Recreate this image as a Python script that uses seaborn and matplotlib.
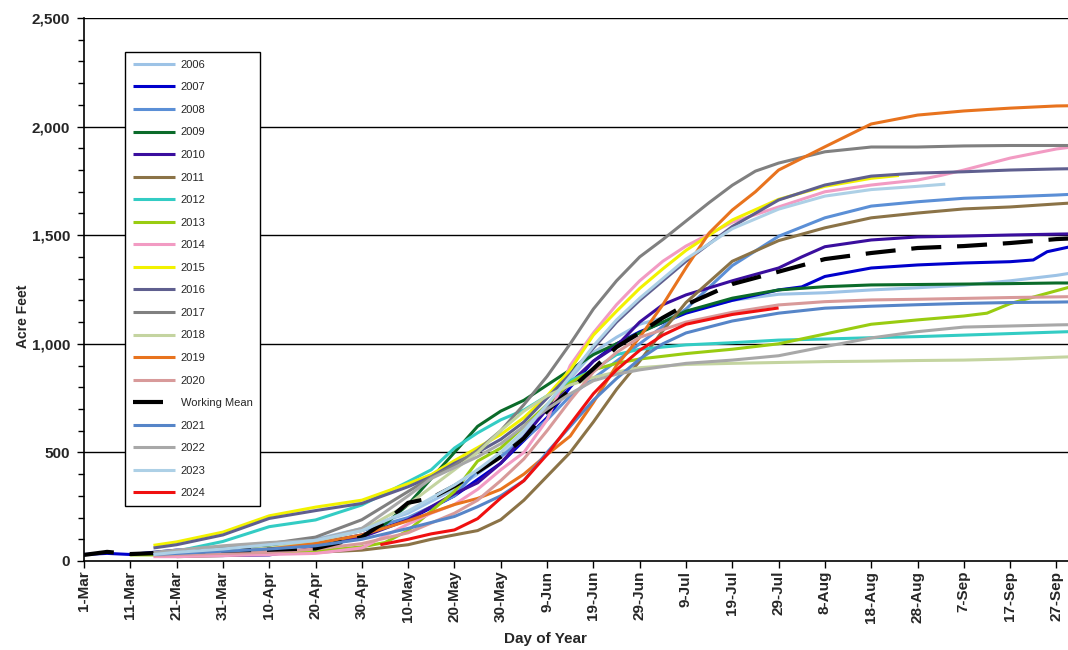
import numpy as np
import pandas as pd
import matplotlib
matplotlib.use("Agg")
import matplotlib.pyplot as plt
from matplotlib.ticker import MultipleLocator, FuncFormatter
import seaborn as sns

# ---- cumulative volumes (acre-feet) by day since 1-Mar ----
day_2006 = [15, 20, 30, 40, 50, 60, 70, 80, 85, 90, 95, 100, 105, 110, 115, 120, 130, 140, 150, 160, 170, 180, 190, 200, 210, 213]
af_2006 = [35, 45, 60, 75, 100, 150, 220, 330, 400, 480, 580, 700, 840, 960, 1030, 1090, 1150, 1200, 1228, 1235, 1248, 1258, 1270, 1290, 1315, 1325]

day_2007 = [0, 5, 10, 20, 30, 40, 50, 60, 70, 80, 90, 100, 105, 110, 115, 120, 130, 140, 150, 155, 160, 170, 180, 190, 200, 205, 208, 213]
af_2007 = [30, 35, 30, 50, 55, 65, 80, 120, 190, 300, 450, 660, 800, 920, 1000, 1055, 1141, 1200, 1248, 1262, 1310, 1349, 1363, 1372, 1378, 1386, 1424, 1447]

day_2008 = [10, 20, 30, 40, 50, 60, 70, 80, 85, 90, 95, 100, 105, 110, 115, 120, 125, 130, 140, 150, 160, 170, 180, 190, 200, 210, 213]
af_2008 = [30, 40, 55, 70, 95, 140, 200, 300, 420, 480, 560, 650, 760, 840, 920, 1000, 1080, 1160, 1360, 1495, 1580, 1634, 1654, 1670, 1677, 1685, 1688]

day_2009 = [15, 20, 30, 40, 50, 60, 65, 70, 75, 80, 85, 90, 95, 100, 105, 110, 115, 120, 130, 140, 150, 160, 170, 180, 190, 200, 210, 213]
af_2009 = [30, 40, 55, 65, 80, 110, 170, 260, 380, 500, 620, 690, 740, 810, 880, 950, 1000, 1050, 1150, 1210, 1248, 1263, 1271, 1273, 1275, 1277, 1280, 1280]

day_2010 = [20, 30, 40, 50, 60, 70, 80, 85, 90, 95, 100, 105, 110, 115, 120, 125, 130, 140, 150, 155, 160, 170, 180, 190, 200, 210, 213]
af_2010 = [25, 25, 28, 60, 110, 190, 310, 360, 450, 570, 700, 820, 920, 990, 1100, 1180, 1225, 1290, 1349, 1400, 1447, 1478, 1492, 1496, 1501, 1505, 1506]

day_2011 = [20, 30, 40, 50, 60, 70, 75, 80, 85, 90, 95, 100, 105, 110, 115, 120, 125, 130, 140, 150, 160, 170, 180, 190, 200, 210, 213]
af_2011 = [20, 25, 35, 40, 50, 75, 100, 120, 140, 190, 280, 390, 500, 640, 790, 920, 1060, 1190, 1380, 1475, 1534, 1580, 1602, 1621, 1630, 1644, 1648]

day_2012 = [15, 20, 30, 40, 50, 60, 70, 75, 80, 85, 90, 95, 100, 105, 110, 115, 120, 130, 140, 150, 160, 170, 180, 190, 200, 210, 213]
af_2012 = [30, 45, 90, 158, 189, 258, 365, 420, 520, 590, 650, 695, 760, 830, 880, 950, 975, 995, 1005, 1017, 1022, 1028, 1033, 1040, 1047, 1054, 1056]

day_2013 = [10, 15, 20, 30, 40, 50, 60, 65, 70, 80, 85, 90, 95, 100, 105, 110, 115, 120, 130, 140, 150, 160, 170, 180, 190, 195, 200, 205, 213]
af_2013 = [28, 28, 30, 35, 40, 45, 65, 85, 140, 320, 460, 520, 620, 720, 820, 880, 910, 930, 955, 975, 1000, 1045, 1090, 1110, 1128, 1141, 1185, 1215, 1262]

day_2014 = [15, 20, 30, 40, 50, 60, 70, 75, 80, 85, 90, 95, 100, 105, 110, 115, 120, 125, 130, 140, 150, 160, 170, 180, 185, 190, 200, 210, 213]
af_2014 = [20, 20, 25, 30, 35, 60, 170, 220, 260, 330, 420, 500, 650, 900, 1050, 1180, 1290, 1380, 1450, 1560, 1630, 1700, 1731, 1754, 1775, 1800, 1855, 1897, 1905]

day_2015 = [15, 20, 30, 40, 50, 60, 70, 75, 80, 85, 90, 95, 100, 105, 110, 115, 120, 125, 130, 140, 150, 160, 170, 176]
af_2015 = [72, 88, 133, 208, 248, 280, 356, 398, 462, 522, 582, 660, 760, 880, 1040, 1150, 1255, 1345, 1430, 1570, 1665, 1725, 1762, 1775]

day_2016 = [15, 20, 30, 40, 50, 60, 70, 75, 80, 85, 90, 95, 100, 105, 110, 115, 120, 125, 130, 140, 150, 160, 170, 180, 190, 200, 210, 213]
af_2016 = [60, 75, 120, 196, 232, 265, 342, 388, 450, 500, 560, 640, 750, 860, 980, 1100, 1200, 1290, 1380, 1540, 1662, 1731, 1772, 1786, 1792, 1800, 1805, 1806]

day_2017 = [15, 20, 30, 40, 50, 60, 70, 75, 80, 85, 90, 95, 100, 105, 110, 115, 120, 125, 130, 135, 140, 145, 150, 160, 170, 180, 190, 200, 210, 213]
af_2017 = [35, 45, 60, 80, 110, 190, 320, 385, 440, 510, 600, 720, 850, 1000, 1160, 1290, 1400, 1480, 1565, 1650, 1730, 1795, 1832, 1884, 1906, 1906, 1911, 1913, 1913, 1913]

day_2018 = [15, 20, 30, 40, 50, 60, 70, 80, 85, 90, 95, 100, 105, 110, 115, 120, 130, 140, 150, 160, 170, 180, 190, 200, 210, 213]
af_2018 = [30, 35, 45, 60, 90, 140, 260, 420, 500, 600, 690, 760, 810, 845, 870, 890, 905, 910, 914, 918, 920, 923, 925, 930, 938, 940]

day_2019 = [30, 40, 50, 60, 70, 80, 85, 90, 95, 100, 105, 110, 115, 120, 125, 130, 135, 140, 145, 150, 160, 170, 180, 190, 200, 210, 213]
af_2019 = [40, 55, 80, 120, 185, 260, 288, 330, 400, 490, 575, 730, 900, 1030, 1180, 1350, 1510, 1616, 1700, 1800, 1907, 2012, 2053, 2072, 2085, 2095, 2096]

day_2020 = [15, 20, 30, 40, 50, 60, 70, 80, 85, 90, 95, 100, 105, 110, 115, 120, 130, 140, 150, 160, 170, 180, 190, 200, 210, 213]
af_2020 = [25, 30, 35, 40, 55, 80, 130, 220, 280, 370, 470, 600, 740, 870, 960, 1030, 1100, 1145, 1179, 1194, 1202, 1205, 1209, 1213, 1216, 1217]

day_mean = [0, 5, 10, 15, 20, 30, 40, 50, 60, 65, 70, 75, 80, 85, 90, 95, 100, 105, 110, 115, 120, 125, 130, 140, 150, 160, 170, 180, 190, 200, 210, 213]
af_mean = [28, 42, 32, 36, 42, 48, 52, 58, 110, 180, 268, 290, 345, 410, 480, 565, 690, 790, 885, 985, 1050, 1120, 1180, 1275, 1332, 1390, 1418, 1441, 1450, 1464, 1482, 1485]

day_2021 = [15, 20, 30, 40, 50, 60, 70, 80, 85, 90, 95, 100, 105, 110, 115, 120, 125, 130, 140, 150, 160, 170, 180, 190, 200, 210, 213]
af_2021 = [30, 35, 45, 55, 70, 100, 150, 205, 250, 300, 370, 500, 620, 740, 840, 930, 1000, 1050, 1105, 1141, 1164, 1173, 1180, 1186, 1190, 1192, 1193]

day_2022 = [15, 20, 30, 40, 50, 60, 70, 75, 80, 85, 90, 95, 100, 105, 110, 115, 120, 130, 140, 150, 160, 170, 180, 190, 200, 210, 213]
af_2022 = [40, 50, 70, 85, 95, 150, 300, 380, 430, 480, 540, 620, 700, 770, 830, 860, 880, 910, 925, 945, 987, 1027, 1056, 1077, 1082, 1087, 1088]

day_2023 = [15, 20, 30, 40, 50, 60, 70, 80, 85, 90, 95, 100, 105, 110, 115, 120, 125, 130, 140, 150, 160, 170, 180, 186]
af_2023 = [30, 40, 55, 75, 95, 140, 230, 350, 420, 500, 600, 720, 850, 990, 1110, 1210, 1300, 1390, 1530, 1620, 1680, 1710, 1725, 1735]

day_2024 = [64, 70, 75, 80, 85, 90, 95, 100, 105, 110, 115, 120, 125, 130, 140, 150]
af_2024 = [75, 100, 125, 143, 195, 290, 370, 490, 630, 770, 880, 970, 1040, 1090, 1135, 1165]

series_names = ["2006", "2007", "2008", "2009", "2010", "2011", "2012", "2013", "2014",
                "2015", "2016", "2017", "2018", "2019", "2020", "Working Mean",
                "2021", "2022", "2023", "2024"]
series_days = [day_2006, day_2007, day_2008, day_2009, day_2010, day_2011, day_2012,
               day_2013, day_2014, day_2015, day_2016, day_2017, day_2018, day_2019,
               day_2020, day_mean, day_2021, day_2022, day_2023, day_2024]
series_af = [af_2006, af_2007, af_2008, af_2009, af_2010, af_2011, af_2012, af_2013,
             af_2014, af_2015, af_2016, af_2017, af_2018, af_2019, af_2020, af_mean,
             af_2021, af_2022, af_2023, af_2024]
series_colors = ["#9DC3E6", "#0000CC", "#5B8FD6", "#0B6B2A", "#3A0E9E", "#8B7347",
                 "#33CCC4", "#99CC11", "#F29BC3", "#F2F200", "#5F5F8F", "#808080",
                 "#C4D4A0", "#E8731E", "#D89A9A", "#000000", "#5685C8", "#A8A8A8",
                 "#ADD0E6", "#F01010"]

tick_days = list(range(0, 211, 10))
tick_labels = ["1-Mar", "11-Mar", "21-Mar", "31-Mar", "10-Apr", "20-Apr", "30-Apr",
               "10-May", "20-May", "30-May", "9-Jun", "19-Jun", "29-Jun", "9-Jul",
               "19-Jul", "29-Jul", "8-Aug", "18-Aug", "28-Aug", "7-Sep", "17-Sep", "27-Sep"]

# ---- long-form table ----
frames = []
for name, d, v in zip(series_names, series_days, series_af):
    frames.append(pd.DataFrame({"series": name, "day": d, "acre_feet": v}))
df = pd.concat(frames, ignore_index=True)

sns.set_theme(style="ticks")
plt.rcParams["font.family"] = ["Liberation Sans", "DejaVu Sans"]

fig = plt.figure(figsize=(10.68, 6.5), dpi=100)
ax = fig.add_axes([84 / 1068, 1 - 561 / 650, 1 - 84 / 1068, (561 - 18) / 650])

for i in [500, 1000, 1500, 2000, 2500]:
    ax.axhline(i, color="black", lw=1.0, zorder=1)

handles = []
for name, color in zip(series_names, series_colors):
    sub = df[df["series"] == name]
    is_mean = name == "Working Mean"
    sns.lineplot(data=sub, x="day", y="acre_feet", ax=ax, color=color,
                 lw=3.0 if is_mean else 2.2, estimator=None, sort=True,
                 legend=False, zorder=3)
    line = ax.lines[-1]
    if is_mean:
        line.set_dashes((7.2, 3.8))
    line.set_solid_capstyle("butt")
    handles.append(line)

ax.set_xlim(0, 212.5)
ax.set_ylim(0, 2500)
ax.set_xticks(tick_days)
ax.set_xticklabels(tick_labels, rotation=90, fontsize=11, fontweight="bold")
ax.yaxis.set_major_locator(MultipleLocator(500))
ax.yaxis.set_minor_locator(MultipleLocator(100))
ax.yaxis.set_major_formatter(FuncFormatter(lambda v, p: f"{int(v):,}"))
for lab in ax.get_yticklabels():
    lab.set_fontweight("bold")
    lab.set_fontsize(11)
ax.tick_params(axis="both", which="major", direction="out", length=5, width=1,
               color="black", pad=2)
ax.tick_params(axis="y", which="minor", direction="out", length=4, width=1, color="black")
ax.tick_params(axis="y", which="major", pad=5)

for s in ["left", "bottom"]:
    ax.spines[s].set_color("black")
    ax.spines[s].set_linewidth(1.2)
ax.spines["right"].set_visible(False)
ax.spines["top"].set_visible(False)

ax.set_xlabel("Day of Year", fontsize=11, fontweight="bold")
ax.set_ylabel("Acre Feet", fontsize=10, fontweight="bold")
ax.xaxis.set_label_coords((545 - 84) / 984, (561 - 632) / 543)
ax.yaxis.set_label_coords((30 - 84) / 984, 0.45)

leg = ax.legend(handles, series_names, loc="upper left",
                bbox_to_anchor=((125 - 84) / 984, (561 - 52) / 543),
                fontsize=8, handlelength=3.8, labelspacing=1.13, borderpad=0.7,
                handletextpad=0.5, frameon=True, fancybox=False, framealpha=1,
                edgecolor="black", borderaxespad=0)
leg.get_frame().set_linewidth(1.0)

fig.savefig("out.png", dpi=100, facecolor="white")
